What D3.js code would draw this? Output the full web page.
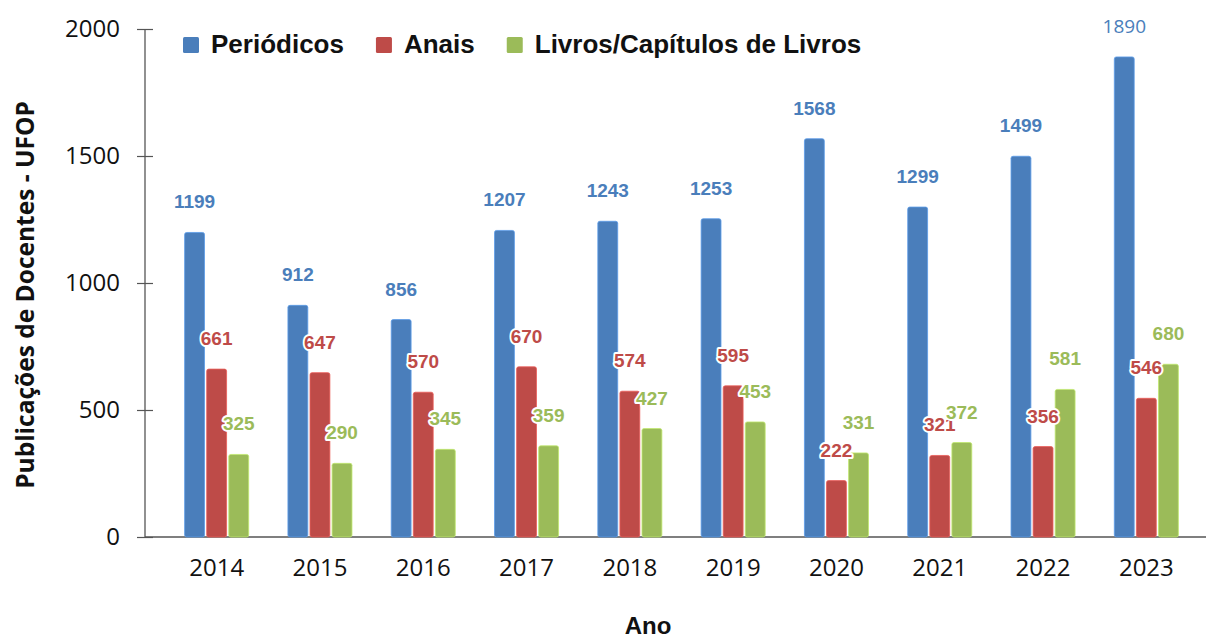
<!DOCTYPE html>
<html>
<head>
<meta charset="utf-8">
<script src="https://cdn.jsdelivr.net/npm/d3@7"></script>
<style>
  body { margin: 0; background: #fff; }
  svg { display: block; }
</style>
</head>
<body>
<div id="chart"></div>
<script>
// data
var years = ['2014', '2015', '2016', '2017', '2018', '2019', '2020', '2021', '2022', '2023'];
var periodicos = [1199, 912, 856, 1207, 1243, 1253, 1568, 1299, 1499, 1890];
var anais = [661, 647, 570, 670, 574, 595, 222, 321, 356, 546];
var livros = [325, 290, 345, 359, 427, 453, 331, 372, 581, 680];
var seriesNames = ['Periódicos', 'Anais', 'Livros/Capítulos de Livros'];
var yTicks = [0, 500, 1000, 1500, 2000];

var colors = ['#4a7ebb', '#be4b48', '#9bbb59'];
var allSeries = [periodicos, anais, livros];

var W = 1206, H = 639;
var svg = d3.select('#chart').append('svg')
    .attr('width', W)
    .attr('height', H);

// Scales
var x0 = d3.scaleBand()
    .domain(years)
    .range([165, 1198])
    .paddingInner(0.38)
    .paddingOuter(0.19);

var x1 = d3.scaleBand()
    .domain(d3.range(seriesNames.length))
    .range([0, x0.bandwidth()])
    .paddingInner(0.1);

var y = d3.scaleLinear()
    .domain([0, 2000])
    .range([537, 29]);

// Y axis
var yAxis = svg.append('g')
    .attr('transform', 'translate(145,0)')
    .call(d3.axisLeft(y).tickValues(yTicks).tickFormat(d3.format('d')).tickSize(8));
yAxis.select('.domain').attr('stroke', '#555').attr('stroke-width', 1.3).attr('d', 'M0,' + y(2000) + 'V' + y(0));
yAxis.selectAll('.tick line').attr('stroke', '#555').attr('x1', 8).attr('x2', -8).attr('stroke-width', 1.2);
yAxis.selectAll('.tick text')
    .attr('font-family', 'Open Sans, sans-serif')
    .attr('font-size', 24)
    .attr('fill', '#111')
    .attr('x', -25);

// X axis
var xAxis = svg.append('g')
    .attr('transform', 'translate(0,' + y(0) + ')')
    .call(d3.axisBottom(x0).tickSize(0).tickPadding(22));
xAxis.select('.domain').attr('stroke', '#555').attr('stroke-width', 1.6).attr('d', 'M145,0H1206');
xAxis.selectAll('.tick text')
    .attr('font-family', 'Open Sans, sans-serif')
    .attr('font-size', 24)
    .attr('fill', '#111');

// Bars
var groups = svg.append('g').selectAll('g')
    .data(years)
    .enter()
    .append('g')
    .attr('transform', function(d) { return 'translate(' + x0(d) + ',0)'; });

groups.selectAll('rect')
    .data(function(d, i) {
        return allSeries.map(function(s, k) { return { k: k, v: s[i] }; });
    })
    .enter()
    .append('rect')
    .attr('x', function(d) { return x1(d.k); })
    .attr('y', function(d) { return y(d.v); })
    .attr('width', x1.bandwidth())
    .attr('height', function(d) { return y(0) - y(d.v); })
    .attr('rx', 2)
    .attr('fill', function(d) { return colors[d.k]; })
    .attr('stroke', function(d) { return d3.color(colors[d.k]).brighter(0.6); })
    .attr('stroke-width', 0.8);

// Value labels
groups.selectAll('text.val')
    .data(function(d, i) {
        return allSeries.map(function(s, k) { return { k: k, v: s[i], last: i === years.length - 1 }; });
    })
    .enter()
    .append('text')
    .attr('class', 'val')
    .attr('x', function(d) { return x1(d.k) + x1.bandwidth() / 2; })
    .attr('y', function(d) { return y(d.v) - 24; })
    .attr('text-anchor', 'middle')
    .attr('font-family', function(d) { return (d.last && d.k === 0) ? 'Open Sans, sans-serif' : 'Liberation Sans, Arial, sans-serif'; })
    .attr('font-weight', function(d) { return (d.last && d.k === 0) ? 'normal' : 'bold'; })
    .attr('font-size', 19)
    .attr('fill', function(d) { return colors[d.k]; })
    .attr('stroke', '#fff')
    .attr('stroke-width', 4)
    .attr('stroke-linejoin', 'round')
    .attr('paint-order', 'stroke')
    .text(function(d) { return d.v; });

// Legend
var legend = svg.append('g').attr('transform', 'translate(183,37)');
var lx = 0;
seriesNames.forEach(function(name, k) {
    var item = legend.append('g').attr('transform', 'translate(' + lx + ',0)');
    item.append('rect')
        .attr('width', 16)
        .attr('height', 16)
        .attr('rx', 1.5)
        .attr('fill', colors[k]);
    var t = item.append('text')
        .attr('x', 28)
        .attr('y', 16)
        .attr('font-family', 'Liberation Sans, Arial, sans-serif')
        .attr('font-weight', 'bold')
        .attr('font-size', 26)
        .attr('fill', '#111')
        .text(name);
    lx += 28 + t.node().getComputedTextLength() + 32;
});

// Axis titles
svg.append('text')
    .attr('transform', 'translate(34,295) rotate(-90)')
    .attr('text-anchor', 'middle')
    .attr('font-family', 'Open Sans, sans-serif')
    .attr('font-weight', 'bold')
    .attr('font-size', 24.5)
    .attr('fill', '#111')
    .text('Publicações de Docentes - UFOP');

svg.append('text')
    .attr('x', 648)
    .attr('y', 634)
    .attr('text-anchor', 'middle')
    .attr('font-family', 'Liberation Sans, Arial, sans-serif')
    .attr('font-weight', 'bold')
    .attr('font-size', 24)
    .attr('fill', '#111')
    .text('Ano');
</script>
</body>
</html>
